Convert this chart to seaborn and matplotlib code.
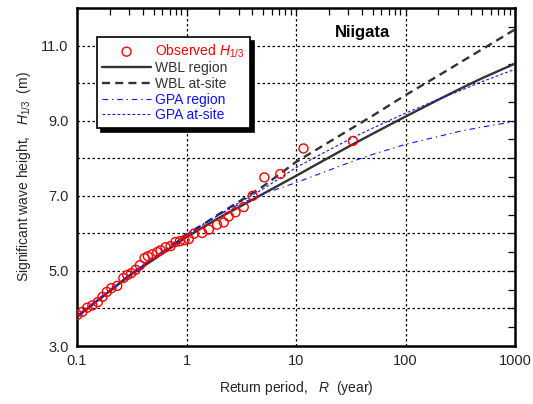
import numpy as np
import pandas as pd
import matplotlib
matplotlib.use("Agg")
import matplotlib.pyplot as plt
import matplotlib.ticker as mticker
import seaborn as sns

# ---------------- data ----------------
obs_R = [0.101, 0.112, 0.124, 0.138, 0.155, 0.171, 0.187, 0.206, 0.233, 0.265,
         0.288, 0.313, 0.343, 0.375, 0.414, 0.444, 0.486, 0.541, 0.580, 0.644,
         0.715, 0.794, 0.869, 0.959, 1.05, 1.17, 1.39, 1.60, 1.90, 2.19,
         2.43, 2.80, 3.33, 4.02, 5.14, 7.19, 11.7, 33.1]
obs_H = [3.83, 3.91, 4.02, 4.08, 4.17, 4.31, 4.44, 4.54, 4.60, 4.81,
         4.89, 4.94, 5.03, 5.15, 5.34, 5.39, 5.44, 5.50, 5.55, 5.63,
         5.66, 5.77, 5.79, 5.82, 5.85, 5.99, 6.01, 6.10, 6.23, 6.29,
         6.45, 6.56, 6.70, 7.00, 7.49, 7.58, 8.26, 8.46]

curve_R = [0.1, 0.2, 0.316, 0.5, 1, 2, 3.16, 5, 10, 20, 31.6, 50, 100, 200, 316, 500, 1000]
wbl_region = [3.78, 4.47, 4.92, 5.30, 5.90, 6.42, 6.73, 7.05, 7.53, 8.02, 8.34, 8.65, 9.11, 9.56, 9.85, 10.13, 10.52]
wbl_atsite = [3.78, 4.47, 4.92, 5.32, 5.95, 6.52, 6.88, 7.25, 7.90, 8.43, 8.78, 9.13, 9.68, 10.20, 10.55, 10.90, 11.43]
gpa_region = [3.80, 4.50, 4.95, 5.35, 6.00, 6.50, 6.80, 7.05, 7.35, 7.68, 7.90, 8.10, 8.37, 8.58, 8.72, 8.83, 8.98]
gpa_atsite = [3.78, 4.48, 4.93, 5.33, 5.95, 6.50, 6.85, 7.18, 7.75, 8.22, 8.52, 8.80, 9.20, 9.57, 9.80, 10.04, 10.37]

x_ticks = [0.1, 1, 10, 100, 1000]
x_ticklabels = ["0.1", "1", "10", "100", "1000"]
y_ticks = [3, 5, 7, 9, 11]
y_ticklabels = ["3.0", "5.0", "7.0", "9.0", "11.0"]

# ---------------- style ----------------
sns.set_style("white")
plt.rcParams['font.family'] = ['Liberation Sans', 'DejaVu Sans']
plt.rcParams['mathtext.fontset'] = 'custom'
plt.rcParams['mathtext.rm'] = 'Liberation Sans'
plt.rcParams['mathtext.it'] = 'Liberation Sans:italic'
plt.rcParams['mathtext.bf'] = 'Liberation Sans:bold'

fig = plt.figure(figsize=(5.33, 4.04), dpi=100)
ax = fig.add_axes([77/533, 1-346/404, 438/533, 338/404])

dark = '#333333'
blue = '#1010ff'

sns.lineplot(x=curve_R, y=wbl_region, ax=ax, color=dark, linewidth=1.7,
             sort=False, label='WBL region', zorder=4)
sns.lineplot(x=curve_R, y=wbl_atsite, ax=ax, color=dark, linewidth=1.7,
             linestyle=(0, (3.4, 2.2)), sort=False, label='WBL at-site', zorder=4)
sns.lineplot(x=curve_R, y=gpa_region, ax=ax, color=blue, linewidth=0.8,
             linestyle=(0, (5, 3.5, 1.2, 3.5)), sort=False, label='GPA region', zorder=4)
sns.lineplot(x=curve_R, y=gpa_atsite, ax=ax, color=blue, linewidth=0.8,
             linestyle=(0, (2.5, 2.0)), sort=False, label='GPA at-site', zorder=4)
sns.scatterplot(x=obs_R, y=obs_H, ax=ax, marker='o', s=42, facecolor='none',
                edgecolor='red', linewidth=1.0, label='Observed $H_{1/3}$', zorder=5)

ax.set_xscale('log')
ax.set_xlim(0.1, 1000)
ax.set_ylim(3, 12)

# grid
for yv in range(4, 12):
    ax.axhline(yv, color='black', linestyle=(0, (2, 2)), linewidth=0.9, zorder=1)
for xv in [1, 10, 100]:
    ax.axvline(xv, color='black', linestyle=(0, (2, 2)), linewidth=0.9, zorder=1)

ax.xaxis.set_major_locator(mticker.FixedLocator(x_ticks))
ax.xaxis.set_major_formatter(mticker.FixedFormatter(x_ticklabels))
ax.xaxis.set_minor_locator(mticker.LogLocator(base=10, subs=np.arange(2, 10)))
ax.xaxis.set_minor_formatter(mticker.NullFormatter())
ax.yaxis.set_major_locator(mticker.FixedLocator(y_ticks))
ax.yaxis.set_major_formatter(mticker.FixedFormatter(y_ticklabels))
ax.yaxis.set_minor_locator(mticker.MultipleLocator(0.5))

ax.tick_params(axis='both', which='both', direction='in', top=True, right=True,
               color='black', width=0.9)
ax.tick_params(axis='both', which='major', length=5, labelsize=10.5, pad=6)
ax.tick_params(axis='both', which='minor', length=5)
ax.tick_params(axis='x', which='major', pad=6)

for sp in ax.spines.values():
    sp.set_visible(True)
    sp.set_color('black')
    sp.set_linewidth(1.8)

ax.set_xlabel('Return period,   $R$  (year)', fontsize=10, labelpad=8)
ax.set_ylabel('Significant wave height,   $H_{1/3}$  (m)', fontsize=10, labelpad=6)

ax.text(0.651, 0.928, 'Niigata', transform=ax.transAxes, ha='center', va='center',
        fontsize=12, fontweight='bold', color='black')

# legend
handles, labels = ax.get_legend_handles_labels()
order = [4, 0, 1, 2, 3]
leg = ax.legend([handles[i] for i in order], [labels[i] for i in order],
                loc='upper left', bbox_to_anchor=(0.045, 0.915), borderaxespad=0,
                fontsize=10, frameon=True, fancybox=False, edgecolor='black',
                framealpha=1, handlelength=3.5, handletextpad=0.3, labelspacing=0.12,
                borderpad=0.4,
                shadow={'color': 'black', 'alpha': 1.0, 'ox': 3, 'oy': -3})
leg.get_frame().set_linewidth(1.2)
text_colors = ['red', dark, dark, blue, blue]
for t, c in zip(leg.get_texts(), text_colors):
    t.set_color(c)

fig.savefig('out.png', dpi=100)
